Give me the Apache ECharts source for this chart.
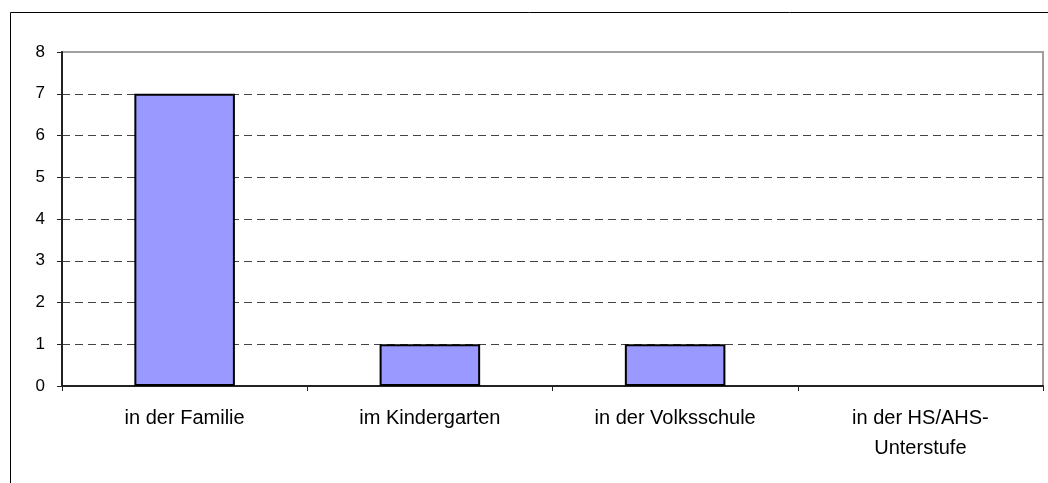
<!DOCTYPE html>
<html>
<head>
<meta charset="utf-8">
<script src="https://cdn.jsdelivr.net/npm/echarts@6/dist/echarts.min.js"></script>
<style>
  html, body { margin: 0; padding: 0; background: #fff; }
  #chart { width: 1048px; height: 483px; }
</style>
</head>
<body>
<div id="chart"></div>
<script>
const categories = [
  "in der Familie",
  "im Kindergarten",
  "in der Volksschule",
  "in der HS/AHS-\nUnterstufe",
];
const values = [7, 1, 1, 0];
const yTicks = [0, 1, 2, 3, 4, 5, 6, 7, 8];

const chartDom = document.getElementById("chart");
const myChart = echarts.init(chartDom);

// empty bars get no outline (Excel draws nothing for 0)
const barData = values.map((v) => ({
  value: v,
  itemStyle: v === 0 ? { borderWidth: 0, opacity: 0 } : {},
}));

const option = {
  animation: false,
  textStyle: { fontFamily: "Liberation Sans, Arial, sans-serif" },
  graphic: [
    {
      type: "rect",
      shape: { x: 10.5, y: 12.5, width: 1060, height: 500 },
      style: { fill: "none", stroke: "#000", lineWidth: 1 },
      silent: true,
    },
  ],
  grid: {
    left: 62,
    top: 52,
    right: 5,
    bottom: 97,
    show: true,
    borderColor: "#a0a0a0",
    borderWidth: 2,
  },
  xAxis: {
    type: "category",
    data: categories,
    axisLine: { lineStyle: { color: "#222", width: 2 } },
    axisTick: { show: true, length: 5, lineStyle: { color: "#222" } },
    axisLabel: {
      color: "#000",
      fontSize: 20,
      lineHeight: 30,
      margin: 17,
      interval: 0,
    },
    splitLine: { show: false },
  },
  yAxis: {
    type: "value",
    min: yTicks[0],
    max: yTicks[yTicks.length - 1],
    interval: 1,
    axisLine: { show: true, lineStyle: { color: "#222", width: 2 } },
    axisTick: { show: true, length: 5, lineStyle: { color: "#222" } },
    axisLabel: { color: "#000", fontSize: 17, margin: 17 },
    splitLine: {
      show: true,
      showMinLine: false,
      showMaxLine: false,
      lineStyle: { color: "#444", type: [8, 5], width: 1 },
    },
  },
  series: [
    {
      type: "bar",
      data: barData,
      barWidth: "41%",
      itemStyle: { color: "#9999FF", borderColor: "#000", borderWidth: 2 },
    },
  ],
};

option && myChart.setOption(option);
</script>
</body>
</html>
